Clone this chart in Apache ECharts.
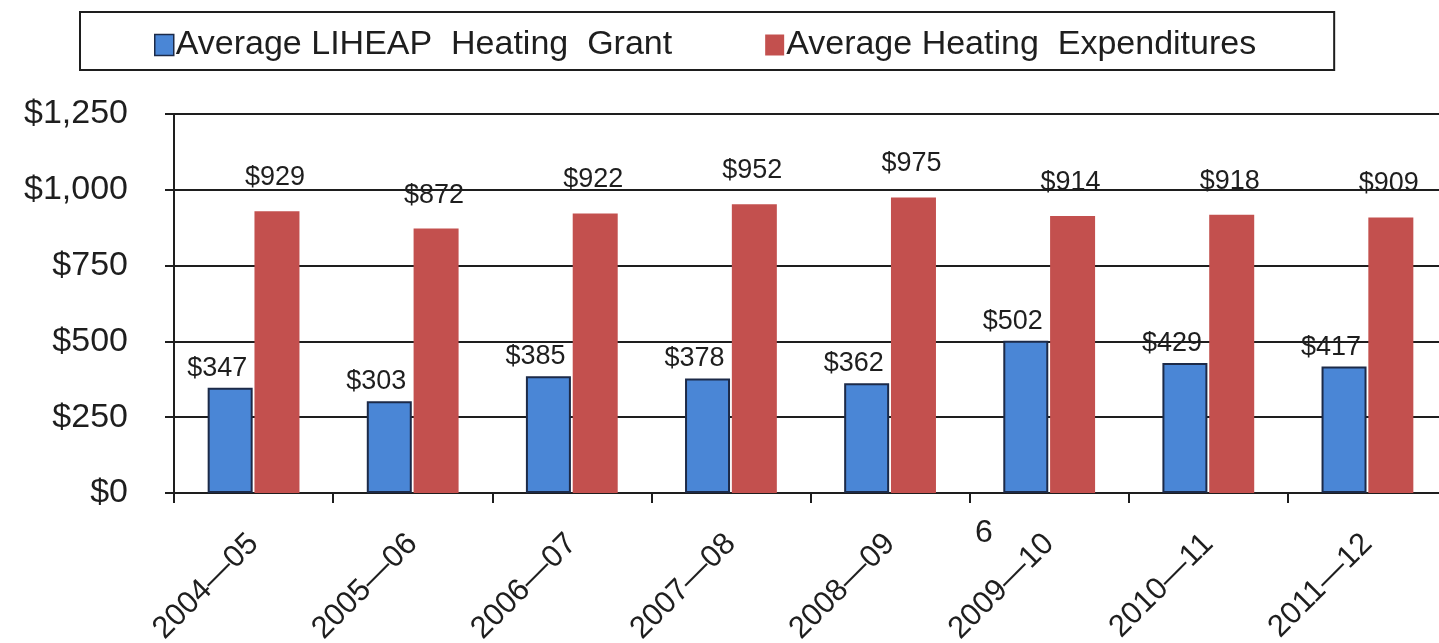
<!DOCTYPE html>
<html>
<head>
<meta charset="utf-8">
<style>
  html, body { margin: 0; padding: 0; background: #fff; }
  #chart { width: 1439px; height: 643px; }
</style>
<script src="https://cdn.jsdelivr.net/npm/echarts@6/dist/echarts.min.js"></script>
</head>
<body>
<div id="chart"></div>
<script>
const categories = ['2004\u201405', '2005\u201406', '2006\u201407', '2007\u201408', '2008\u201409', '2009\u201410', '2010\u201411', '2011\u201412'];
const grantValues = [347, 303, 385, 378, 362, 502, 429, 417];
const expenditureValues = [929, 872, 922, 952, 975, 914, 918, 909];
const yTicks = [0, 250, 500, 750, 1000, 1250];

const fontFamily = '"Liberation Sans", Arial, sans-serif';
const ink = '#1e1e1e';

const chart = echarts.init(document.getElementById('chart'));

const money = v => '$' + Number(v).toLocaleString('en-US');

chart.setOption({
  animation: false,
  textStyle: { fontFamily: fontFamily, color: ink },
  legend: {
    left: 80,
    top: 12,
    padding: [16, 78, 8, 74],
    borderColor: ink,
    borderWidth: 2,
    itemWidth: 19,
    itemHeight: 21,
    itemGap: 93,
    textStyle: { fontSize: 34, color: ink, fontFamily: fontFamily, padding: [0, 0, 0, -3] },
    data: [
      { name: 'Average LIHEAP  Heating  Grant', icon: 'rect', itemStyle: { borderColor: '#1c2a48', borderWidth: 1.5 } },
      { name: 'Average Heating  Expenditures', icon: 'rect' }
    ]
  },
  grid: { left: 174, right: -8, top: 114, bottom: 150, containLabel: false, outerBoundsMode: 'none' },
  xAxis: {
    type: 'category',
    data: categories,
    axisLine: { lineStyle: { color: ink, width: 2 } },
    axisTick: { show: true, length: 10, lineStyle: { color: ink, width: 2 } },
    axisLabel: {
      rotate: 45,
      margin: 46,
      fontSize: 31,
      color: ink,
      fontFamily: fontFamily
    }
  },
  yAxis: {
    type: 'value',
    min: yTicks[0],
    max: yTicks[yTicks.length - 1],
    interval: 250,
    axisLine: { show: true, lineStyle: { color: ink, width: 2 } },
    axisTick: { show: true, length: 9, inside: false, lineStyle: { color: ink, width: 2 } },
    splitLine: { lineStyle: { color: ink, width: 2 } },
    axisLabel: {
      formatter: money,
      margin: 46,
      fontSize: 34,
      color: ink,
      fontFamily: fontFamily
    }
  },
  series: [
    {
      name: 'Average LIHEAP  Heating  Grant',
      type: 'bar',
      data: grantValues,
      barWidth: 45,
      barGap: '4%',
      itemStyle: { color: '#4a86d6', borderColor: '#1c2a48', borderWidth: 2 },
      label: {
        show: true,
        position: 'top',
        distance: 6,
        offset: [-13, 0],
        formatter: p => money(p.value),
        fontSize: 27,
        color: ink,
        fontFamily: fontFamily
      }
    },
    {
      name: 'Average Heating  Expenditures',
      type: 'bar',
      data: expenditureValues,
      barWidth: 45,
      itemStyle: { color: '#c3504e' },
      label: {
        show: true,
        position: 'top',
        distance: 20,
        offset: [-2, 0],
        formatter: p => money(p.value),
        fontSize: 27,
        color: ink,
        fontFamily: fontFamily
      }
    }
  ],
  graphic: [
    {
      type: 'text',
      left: 975,
      top: 517,
      style: { text: '6', fontSize: 32, fill: ink, fontFamily: fontFamily }
    }
  ]
});
</script>
</body>
</html>
